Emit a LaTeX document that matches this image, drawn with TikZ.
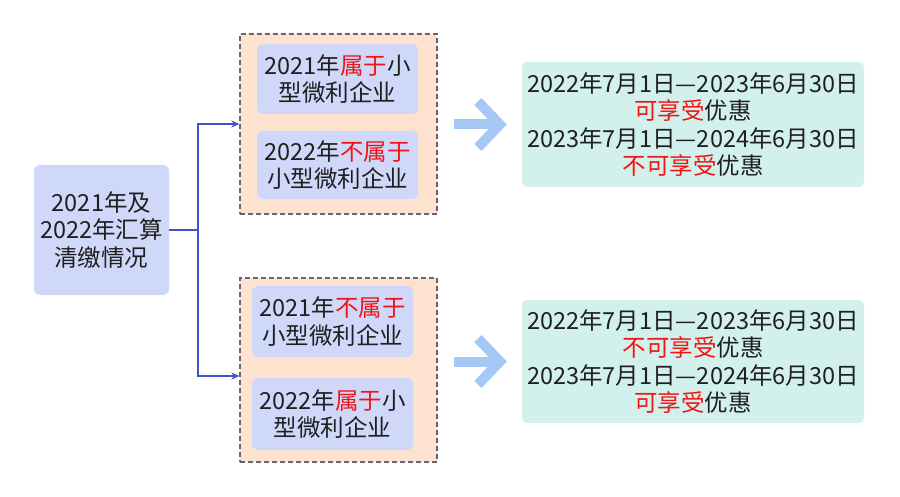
\documentclass[tikz,border=0pt]{standalone}
\usepackage{fontspec}
\setmainfont{Noto Sans CJK SC}
\usepackage{xcolor}
\usetikzlibrary{arrows.meta, positioning, calc}
\definecolor{boxblue}{RGB}{208, 216, 250}
\definecolor{boxpeach}{RGB}{253, 227, 207}
\definecolor{boxmint}{RGB}{211, 241, 236}
\definecolor{linkblue}{RGB}{62, 82, 204}
\definecolor{bigblue}{RGB}{166, 200, 245}
\definecolor{dashgray}{RGB}{100, 100, 115}
\definecolor{hotred}{RGB}{240, 20, 20}
\newcommand{\hl}[1]{\textcolor{hotred}{#1}}

\tikzset{
  txt/.style={font=\fontsize{23.5}{27.5}\selectfont, text=black!88, align=center, inner sep=0pt},
  bluebox/.style={txt, fill=boxblue, rounded corners=6pt},
  groupbox/.style={draw=dashgray, fill=boxpeach, line width=1.3pt, dash pattern=on 5pt off 3pt},
  mintbox/.style={txt, fill=boxmint, rounded corners=5pt},
  link/.style={draw=linkblue, line width=1.6pt, -{Stealth[length=8pt, width=7pt]}},
  bigarrow/.style={draw=bigblue, line width=10pt, -{Straight Barb[length=22pt, width=46pt]}}
}

\begin{document}
\begin{tikzpicture}[x=1pt, y=-1pt]
  \useasboundingbox[fill=white] (0,0) rectangle (900,497);

  % Left box
  \node[bluebox, minimum width=135pt, minimum height=130pt] (calc) at (101.5,230)
    {2021年及\\2022年汇算\\清缴情况};

  % Groups (dashed)
  \node[groupbox, minimum width=197pt, minimum height=180pt] (upper) at (338.5,124) {};
  \node[groupbox, minimum width=197pt, minimum height=184pt] (lower) at (338.5,370) {};

  \node[bluebox, minimum width=161pt, minimum height=70pt] (a1) at (337.5,79)
    {2021年\hl{属于}小\\型微利企业};
  \node[bluebox, minimum width=161pt, minimum height=68pt] (a2) at (337.5,165)
    {2022年\hl{不属于}\\小型微利企业};
  \node[bluebox, minimum width=161pt, minimum height=71pt] (b1) at (332.5,321.5)
    {2021年\hl{不属于}\\小型微利企业};
  \node[bluebox, minimum width=161pt, minimum height=72pt] (b2) at (332.5,414)
    {2022年\hl{属于}小\\型微利企业};

  % Results
  \node[mintbox, minimum width=342pt, minimum height=125pt] (res1) at (693,124.5)
    {2022年7月1日—2023年6月30日\\\hl{可享受}优惠\\2023年7月1日—2024年6月30日\\\hl{不可享受}优惠};
  \node[mintbox, minimum width=342pt, minimum height=123pt] (res2) at (693,361.5)
    {2022年7月1日—2023年6月30日\\\hl{不可享受}优惠\\2023年7月1日—2024年6月30日\\\hl{可享受}优惠};

  % Connectors
  \draw[link] (calc.east) -- ++(29,0) |- (upper.west);
  \draw[link] (calc.east) -- ++(29,0) |- ([yshift=-6pt]lower.west);
  \draw[bigarrow] ($(upper.east |- res1.west)+(16,0)$) -- ([xshift=-15pt]res1.west);
  \draw[bigarrow] ($(lower.east |- res2.west)+(16,0)$) -- ([xshift=-15pt]res2.west);
\end{tikzpicture}
\end{document}
